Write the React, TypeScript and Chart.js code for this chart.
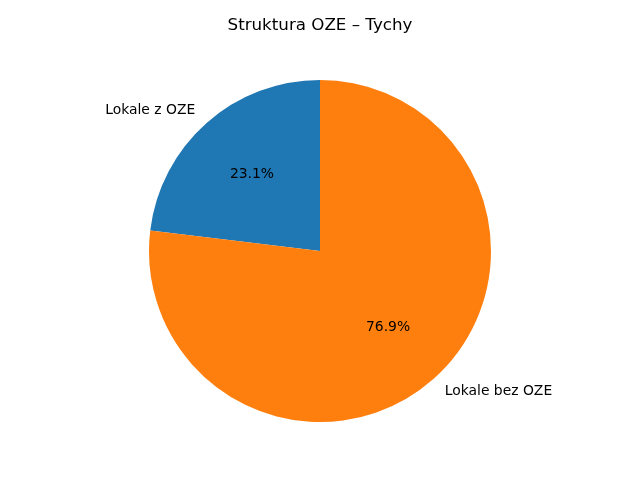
import React, { useEffect, useRef } from "react";
import { Chart, registerables } from "chart.js";

Chart.register(...registerables);

const TITLE = "Struktura OZE – Tychy";
const categories = ["Lokale z OZE", "Lokale bez OZE"];
const values = [3, 10];
const colors = ["#1f77b4", "#ff7f0e"];

const FONT = "'DejaVu Sans', sans-serif";

const labelPlugin = {
  id: "mplLabels",
  afterDatasetsDraw(chart: any) {
    const ctx = chart.ctx;
    const meta = chart.getDatasetMeta(0);
    const total = values.reduce((a, b) => a + b, 0);
    ctx.save();
    ctx.fillStyle = "#000";
    ctx.font = `13.9px ${FONT}`;
    meta.data.forEach((arc: any, i: number) => {
      const { x, y, startAngle, endAngle, outerRadius } = arc.getProps(
        ["x", "y", "startAngle", "endAngle", "outerRadius"],
        true
      );
      const mid = (startAngle + endAngle) / 2;
      const cx = Math.cos(mid);
      const cy = Math.sin(mid);
      // outer label
      const lx = x + cx * outerRadius * 1.1;
      const ly = y + cy * outerRadius * 1.1;
      ctx.textAlign = cx < 0 ? "right" : "left";
      ctx.textBaseline = "middle";
      ctx.fillText(categories[i], lx, ly);
      // percent label
      const px = x + cx * outerRadius * 0.6;
      const py = y + cy * outerRadius * 0.6;
      ctx.textAlign = "center";
      ctx.fillText(((values[i] / total) * 100).toFixed(1) + "%", px, py);
    });
    // title
    ctx.font = `16.7px ${FONT}`;
    ctx.textAlign = "center";
    ctx.textBaseline = "alphabetic";
    ctx.fillText(TITLE, chart.width / 2, 30);
    ctx.restore();
  },
};

export default function App() {
  const ref = useRef<HTMLCanvasElement>(null);
  useEffect(() => {
    document.body.style.margin = "0";
    const total = values.reduce((a, b) => a + b, 0);
    const chart = new Chart(ref.current as HTMLCanvasElement, {
      type: "pie",
      data: {
        labels: categories,
        datasets: [
          {
            data: values,
            backgroundColor: colors,
            borderWidth: 0,
          },
        ],
      },
      options: {
        responsive: false,
        animation: false,
        // matplotlib: startangle=90, counterclockwise -> first slice ends at top
        rotation: -(values[0] / total) * 360,
        layout: { padding: { top: 80, bottom: 58, left: 149, right: 149 } },
        plugins: {
          legend: { display: false },
          title: { display: false },
          tooltip: { enabled: false },
        },
      },
      plugins: [labelPlugin],
    });
    return () => chart.destroy();
  }, []);
  return (
    <div style={{ width: 640, height: 480, background: "#fff" }}>
      <canvas ref={ref} width={640} height={480} />
    </div>
  );
}
